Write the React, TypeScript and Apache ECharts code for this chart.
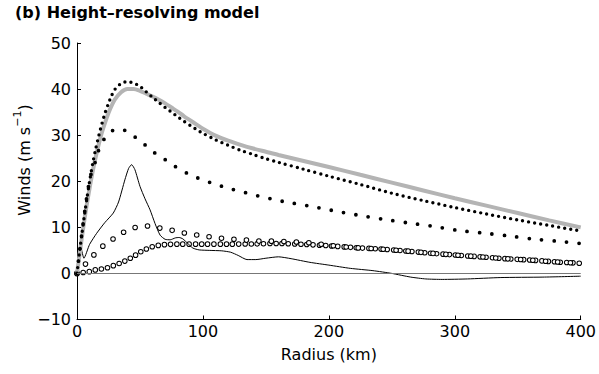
import React, { useEffect, useRef } from "react";
import * as echarts from "echarts";

// Axis ranges and ticks
const X_MIN = 0;
const X_MAX = 400;
const X_STEP = 100;
const Y_MIN = -10;
const Y_MAX = 50;
const Y_STEP = 10;

const TITLE = "(b) Height\u2013resolving model";
const X_NAME = "Radius (km)";

// [radius km, wind m/s]
const thickGray: [number, number][] = [
  [0, 0], [2.5, 5], [5, 10], [7.5, 14.5], [10, 18.5], [12.5, 22.2], [15, 25.4],
  [17.5, 28.3], [20, 30.8], [22.5, 32.9], [25, 34.8], [27.5, 36.4], [30, 37.7],
  [35, 39.3], [40, 40.0], [45, 40.0], [50, 39.6], [55, 39.0], [60, 38.4], [65, 37.7],
  [70, 36.9], [75, 36.0], [80, 35.1], [85, 34.1], [90, 33.2], [95, 32.3], [100, 31.4],
  [110, 29.9], [120, 28.8], [130, 27.9], [140, 27.1], [150, 26.4], [160, 25.7],
  [180, 24.4], [200, 23.1], [225, 21.4], [250, 19.7], [275, 18.0], [300, 16.3],
  [325, 14.7], [350, 13.1], [375, 11.5], [400, 10.0],
];

const denseDots: [number, number][] = [
  [0, 0], [2, 4.6], [4, 8.8], [6, 12.8], [8, 16.5], [10, 20.0], [12.5, 23.9],
  [15, 27.2], [17.5, 30.1], [20, 32.7], [22.5, 35.0], [25, 36.9], [27.5, 38.6],
  [30, 39.9], [35, 41.2], [40, 41.6], [45, 41.3], [50, 40.6], [55, 39.4], [60, 38.2],
  [65, 37.1], [70, 36.0], [75, 35.0], [80, 34.0], [85, 33.0], [90, 32.1], [95, 31.2],
  [100, 30.4], [110, 29.0], [120, 27.8], [130, 26.7], [140, 25.8], [150, 24.9],
  [160, 24.1], [180, 22.6], [200, 21.1], [225, 19.3], [250, 17.4], [275, 15.8],
  [300, 14.3], [325, 12.9], [350, 11.6], [375, 10.4], [400, 9.2],
];

const sparseDots: [number, number][] = [
  [0, 0], [4, 9], [8, 17], [11, 21.4], [14.5, 24.2], [17, 26.6], [21, 28.9],
  [26, 30.6], [32, 31.3], [37.5, 31.1], [46, 29.6], [54, 27.9], [62, 26.1],
  [70, 24.7], [78, 23.2], [87, 21.8], [96, 20.7], [106, 19.7], [115, 18.9],
  [124, 18.2], [134, 17.5], [144, 16.8], [154, 16.2], [164, 15.6], [183, 14.7],
  [202, 13.7], [222, 12.7], [242, 11.8], [262, 11.0], [281, 10.3], [301, 9.4],
  [321, 8.8], [341, 8.2], [361, 7.5], [381, 7.0], [400, 6.5],
];

const denseCircles: [number, number][] = [
  [0, 0], [5, 0.2], [10, 0.4], [15, 0.8], [20, 1.0], [25, 1.3], [30, 1.8], [35, 2.3],
  [40, 2.95], [45, 3.7], [50, 4.6], [55, 5.3], [60, 5.8], [65, 6.1], [70, 6.25],
  [80, 6.35], [100, 6.35], [120, 6.35], [140, 6.4], [160, 6.5], [180, 6.3],
  [200, 6.0], [220, 5.6], [240, 5.3], [260, 4.9], [280, 4.4], [300, 4.0], [320, 3.6],
  [340, 3.2], [360, 2.9], [380, 2.5], [400, 2.2],
];

const sparseCircles: [number, number][] = [
  [0, 0], [7, 2.1], [13.7, 4.1], [20.9, 6.0], [28.8, 7.5], [37.5, 9.0], [46.6, 10.0],
  [56.6, 10.3], [66.4, 9.8], [76.4, 9.3], [86.3, 8.7], [96.3, 8.3], [106, 7.9],
  [116, 7.6], [126, 7.4], [136, 7.2], [146, 7.0], [156, 7.0], [166, 6.9], [176, 6.8],
  [186, 6.6], [200, 6.1], [220, 5.6], [240, 5.3], [260, 4.9], [280, 4.4], [300, 4.0],
  [320, 3.6], [340, 3.2], [360, 2.9], [380, 2.5], [400, 2.2],
];

const thinLine: [number, number][] = [
  [3.5, 5.3], [5.5, 3.3], [10, 6.3], [15.6, 8.7], [22, 11], [28.8, 13.1], [33, 15.5],
  [38, 20.3], [41, 22.8], [43.4, 23.6], [46, 22.5], [50, 18.9], [54, 16.2], [58, 13.8],
  [62, 10.8], [66, 8.3], [70, 7.4], [74, 7.3], [78, 7.7], [81, 7.8], [84, 7.5],
  [88, 6.5], [92, 5.5], [97, 5.1], [105, 5.0], [115, 4.9], [122, 4.6], [128, 3.9],
  [135, 3.0], [142, 3.0], [150, 3.3], [160, 3.6], [170, 3.2], [185, 2.4], [200, 1.8],
  [217, 1.1], [235, 0.6], [250, 0.0], [265, -0.8], [277, -1.2], [290, -1.3],
  [310, -1.2], [336, -0.9], [370, -0.8], [400, -0.6],
];

const ZERO_LEVEL = 0;

const FONT = "DejaVu Sans";

export default function App() {
  const ref = useRef<HTMLDivElement>(null);

  useEffect(() => {
    const chart = echarts.init(ref.current as HTMLDivElement, null, { renderer: "svg" });

    const dotted = (name: string, data: [number, number][], color: string, width: number, gap: number) => ({
      type: "line",
      name,
      data,
      symbol: "none",
      showSymbol: false,
      smooth: 0.3,
      silent: true,
      lineStyle: { color, width, type: [0, gap], cap: "round" },
    });

    const option: any = {
      animation: false,
      backgroundColor: "#ffffff",
      grid: { left: 77, right: 18, top: 43, bottom: 54.5, containLabel: false },
      xAxis: {
        type: "value",
        min: X_MIN,
        max: X_MAX,
        interval: X_STEP,
        name: X_NAME,
        nameLocation: "middle",
        nameGap: 27,
        nameTextStyle: { fontFamily: FONT, fontSize: 16, color: "#000" },
        axisLine: { show: true, onZero: false, lineStyle: { color: "#000", width: 1 } },
        axisTick: { show: true, inside: true, length: 4, lineStyle: { color: "#000" } },
        axisLabel: { fontFamily: FONT, fontSize: 16, color: "#000", margin: 4 },
        splitLine: { show: false },
      },
      yAxis: {
        type: "value",
        min: Y_MIN,
        max: Y_MAX,
        interval: Y_STEP,
        axisLine: { show: true, lineStyle: { color: "#000", width: 1 } },
        axisTick: { show: true, inside: true, length: 4, lineStyle: { color: "#000" } },
        axisLabel: {
          fontFamily: FONT,
          fontSize: 16,
          color: "#000",
          margin: 6,
          formatter: (v: number) => String(v).replace("-", "\u2212"),
        },
        splitLine: { show: false },
      },
      graphic: [
        {
          type: "text",
          left: 15,
          top: 4,
          silent: true,
          style: {
            text: TITLE,
            fontFamily: FONT,
            fontSize: 16,
            fontWeight: "bold",
            fill: "#000",
          },
        },
        {
          type: "text",
          x: 22,
          y: 160,
          rotation: Math.PI / 2,
          silent: true,
          style: {
            text: "{a|Winds (m s}{b|\u22121}{a|)}",
            align: "center",
            verticalAlign: "middle",
            fill: "#000",
            rich: {
              a: { fontFamily: FONT, fontSize: 16, lineHeight: 20, fill: "#000", verticalAlign: "bottom" },
              b: { fontFamily: FONT, fontSize: 11, lineHeight: 11, fill: "#000", verticalAlign: "top" },
            },
          },
        },
      ],
      series: [
        dotted("dense circles outline", denseCircles, "#000", 5.6, 6.2),
        dotted("dense circles", denseCircles, "#fff", 3.6, 6.2),
        dotted("sparse circles outline", sparseCircles, "#000", 5.6, 12.5),
        dotted("sparse circles", sparseCircles, "#fff", 3.6, 12.5),
        {
          type: "line",
          name: "thin",
          data: thinLine,
          symbol: "none",
          showSymbol: false,
          smooth: 0.2,
          silent: true,
          lineStyle: { color: "#000", width: 1 },
          markLine: {
            silent: true,
            symbol: ["none", "none"],
            label: { show: false },
            lineStyle: { color: "#777", width: 1, type: "solid" },
            data: [{ yAxis: ZERO_LEVEL }],
          },
        },
        {
          type: "line",
          name: "gray",
          data: thickGray,
          symbol: "none",
          showSymbol: false,
          smooth: 0.3,
          silent: true,
          lineStyle: { color: "#b4b4b4", width: 4 },
        },
        dotted("dense dots", denseDots, "#000", 3.4, 6.1),
        dotted("sparse dots", sparseDots, "#000", 3.8, 12.5),
      ],
    };

    chart.setOption(option);
    return () => chart.dispose();
  }, []);

  return (
    <div
      ref={ref}
      style={{ position: "absolute", left: 0, top: 0, width: 599, height: 374 }}
    />
  );
}
